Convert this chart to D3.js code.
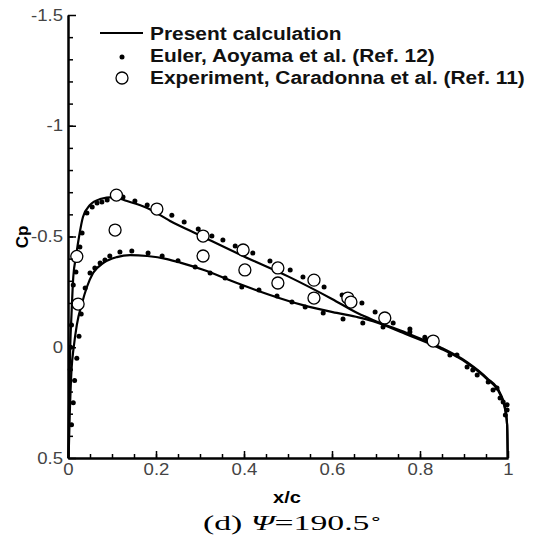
<!DOCTYPE html>
<html>
<head>
<meta charset="utf-8">
<style>
body { margin: 0; background: #fff; }
svg { display: block; }
.tick text { font-family: "Liberation Sans", Arial, sans-serif; font-size: 16px; fill: #444; }
</style>
</head>
<body>
<svg width="535" height="538"></svg>
<script src="https://cdn.jsdelivr.net/npm/d3@7"></script>
<script>
// present calculation, two surfaces [x/c, Cp]
var calcUpper = [[0,0.6],[0.002,0.3],[0.005,0.0],[0.008,-0.15],[0.012,-0.317],[0.018,-0.407],[0.025,-0.498],
  [0.034,-0.588],[0.05,-0.642],[0.073,-0.669],[0.102,-0.678],[0.134,-0.66],[0.18,-0.629],[0.232,-0.57],
  [0.3,-0.505],[0.4,-0.41],[0.5,-0.32],[0.6,-0.218],[0.66,-0.152],[0.693,-0.123],[0.77,-0.064],[0.845,-0.001],
  [0.907,0.067],[0.952,0.139],[0.982,0.207],[0.993,0.27],[0.998,0.35],[1.0,0.6]];
var calcLower = [[0,0.6],[0.004,0.3],[0.008,0.1],[0.013,0.0],[0.02,-0.1],[0.032,-0.2],[0.043,-0.272],
  [0.057,-0.335],[0.08,-0.38],[0.111,-0.407],[0.141,-0.416],[0.18,-0.412],[0.225,-0.398],[0.255,-0.382],
  [0.307,-0.35],[0.384,-0.29],[0.459,-0.236],[0.534,-0.19],[0.611,-0.155],[0.66,-0.135],[0.693,-0.118],
  [0.77,-0.058],[0.845,0.004],[0.907,0.071],[0.952,0.143],[0.982,0.212],[0.993,0.277],[0.998,0.35],[1.0,0.6]];

// Euler, Aoyama et al.
var eulerUpper = [[0.005,0.1],[0.006,0.0],[0.008,-0.1],[0.012,-0.281],[0.018,-0.34],[0.027,-0.453],[0.032,-0.516],
  [0.043,-0.606],[0.055,-0.633],[0.066,-0.651],[0.077,-0.656],[0.089,-0.665],[0.125,-0.678],[0.152,-0.66],
  [0.18,-0.642],[0.236,-0.596],[0.264,-0.565],[0.296,-0.534],[0.327,-0.502],[0.352,-0.484],[0.38,-0.457],
  [0.42,-0.425],[0.459,-0.389],[0.505,-0.349],[0.534,-0.317],[0.582,-0.272],[0.623,-0.236],[0.668,-0.2],
  [0.698,-0.159],[0.739,-0.109],[0.777,-0.082],[0.811,-0.045],[0.884,0.035],[0.92,0.103],[0.955,0.157],
  [0.975,0.184],[0.989,0.247],[0.998,0.283],[0.994,0.306]];
var eulerLower = [[0.008,0.35],[0.012,0.25],[0.015,0.15],[0.02,0.05],[0.025,-0.05],[0.03,-0.15],[0.039,-0.268],
  [0.05,-0.335],[0.061,-0.358],[0.073,-0.38],[0.084,-0.394],[0.095,-0.412],[0.118,-0.43],[0.145,-0.434],
  [0.182,-0.425],[0.214,-0.412],[0.25,-0.39],[0.289,-0.362],[0.323,-0.335],[0.357,-0.313],[0.395,-0.272],
  [0.434,-0.258],[0.475,-0.231],[0.509,-0.204],[0.539,-0.182],[0.58,-0.155],[0.625,-0.128],[0.67,-0.109],
  [0.716,-0.091],[0.777,-0.069],[0.816,-0.033],[0.868,0.035],[0.907,0.089],[0.93,0.125],[0.966,0.193],
  [0.982,0.229],[0.998,0.26]];

// Experiment, Caradonna et al.
var expUpper = [[0.02,-0.41],[0.11,-0.687],[0.202,-0.624],[0.307,-0.502],[0.398,-0.439],[0.477,-0.358],
  [0.559,-0.303],[0.636,-0.222],[0.72,-0.132],[0.83,-0.028]];
var expLower = [[0.023,-0.195],[0.107,-0.529],[0.307,-0.412],[0.402,-0.349],[0.477,-0.29],[0.559,-0.222],
  [0.643,-0.204]];

var xTicks = [0, 0.2, 0.4, 0.6, 0.8, 1];
var yTicks = [-1.5, -1, -0.5, 0, 0.5];
var xMinor = d3.range(1, 20).map(function(i) { return i * 0.05; });
var yMinor = d3.range(-14, 5).map(function(i) { return i / 10; });
var legendLabels = ["Present calculation", "Euler, Aoyama et al. (Ref. 12)", "Experiment, Caradonna et al. (Ref. 11)"];

var svg = d3.select("svg");
var x = d3.scaleLinear().domain([0, 1]).range([68, 508]);
var y = d3.scaleLinear().domain([-1.5, 0.5]).range([15, 458]);

// the picture is a bit wider than its fonts, stretch text sideways
function stretch(sel, k) {
  sel.each(function() {
    var w = this.getComputedTextLength();
    d3.select(this).attr("textLength", w * k).attr("lengthAdjust", "spacingAndGlyphs");
  });
}

svg.append("clipPath").attr("id", "plot")
  .append("rect").attr("x", 66).attr("y", 13).attr("width", 446).attr("height", 445);

var g = svg.append("g").attr("clip-path", "url(#plot)");
var line = d3.line().x(function(d) { return x(d[0]); }).y(function(d) { return y(d[1]); })
  .curve(d3.curveMonotoneX);

[calcUpper, calcLower].forEach(function(s) {
  g.append("path").datum(s).attr("d", line)
    .attr("fill", "none").attr("stroke", "#000").attr("stroke-width", 2.2);
});

g.selectAll("circle.eu").data(eulerUpper.concat(eulerLower)).enter()
  .append("circle").attr("class", "eu")
  .attr("cx", function(d) { return x(d[0]); })
  .attr("cy", function(d) { return y(d[1]); })
  .attr("r", 2.5).attr("fill", "#000");

g.selectAll("circle.ex").data(expUpper.concat(expLower)).enter()
  .append("circle").attr("class", "ex")
  .attr("cx", function(d) { return x(d[0]); })
  .attr("cy", function(d) { return y(d[1]); })
  .attr("r", 6).attr("fill", "#fff").attr("stroke", "#000").attr("stroke-width", 1.3);

// axes, ticks point inward
var xb = svg.append("g").attr("transform", "translate(0," + y(0.5) + ")");
xb.append("g").call(d3.axisBottom(x).tickValues(xMinor).tickSize(-4).tickSizeOuter(0).tickFormat(""));
var xAxis = xb.append("g")
  .call(d3.axisBottom(x).tickValues(xTicks).tickSize(-7).tickSizeOuter(0).tickPadding(6)
    .tickFormat(function(d) { return String(d); }));

var yb = svg.append("g").attr("transform", "translate(" + x(0) + ",0)");
yb.append("g").call(d3.axisLeft(y).tickValues(yMinor).tickSize(-5).tickSizeOuter(0).tickFormat(""));
var yAxis = yb.append("g")
  .call(d3.axisLeft(y).tickValues(yTicks).tickSize(-8).tickSizeOuter(0).tickPadding(5)
    .tickFormat(function(d) { return String(d); }));

svg.selectAll(".domain").attr("stroke", "#000").attr("stroke-width", 2);
svg.selectAll(".tick line").attr("stroke", "#000").attr("stroke-width", 1.5);
stretch(xAxis.selectAll(".tick text"), 1.16);
stretch(yAxis.selectAll(".tick text"), 1.16);

// labels
var cp = svg.append("text").attr("transform", "translate(28,237) rotate(-90)")
  .attr("text-anchor", "middle")
  .style("font-family", "Liberation Sans, Arial, sans-serif").style("font-weight", "bold").style("font-size", "17px")
  .text("Cp");
var xl = svg.append("text").attr("x", 287).attr("y", 503).attr("text-anchor", "middle")
  .style("font-family", "Liberation Sans, Arial, sans-serif").style("font-weight", "bold").style("font-size", "17px")
  .text("x/c");
stretch(xl, 1.18);

var cap = svg.append("text").attr("x", 203).attr("y", 530)
  .style("font-family", "Liberation Serif, Times New Roman, serif").style("font-size", "20px");
cap.append("tspan").text("(d) ");
cap.append("tspan").style("font-style", "italic").text("Ψ");
cap.append("tspan").text("=190.5");
cap.append("tspan").attr("dy", -8).style("font-size", "13px").text("∘");
cap.attr("textLength", 180).attr("lengthAdjust", "spacingAndGlyphs");

// legend
var lg = svg.append("g");
lg.append("line").attr("x1", 100).attr("x2", 143).attr("y1", 33).attr("y2", 33)
  .attr("stroke", "#000").attr("stroke-width", 2.2);
lg.append("circle").attr("cx", 122).attr("cy", 57).attr("r", 2.5).attr("fill", "#000");
lg.append("circle").attr("cx", 122).attr("cy", 78).attr("r", 6).attr("fill", "#fff")
  .attr("stroke", "#000").attr("stroke-width", 1.3);
var lt = lg.selectAll("text").data(legendLabels).enter().append("text")
  .attr("x", 150).attr("y", function(d, i) { return 40 + i * 22; })
  .style("font-family", "Liberation Sans, Arial, sans-serif").style("font-weight", "bold").style("font-size", "18px")
  .attr("fill", "#111")
  .text(function(d) { return d; });
stretch(lt, 1.16);
</script>
</body>
</html>
